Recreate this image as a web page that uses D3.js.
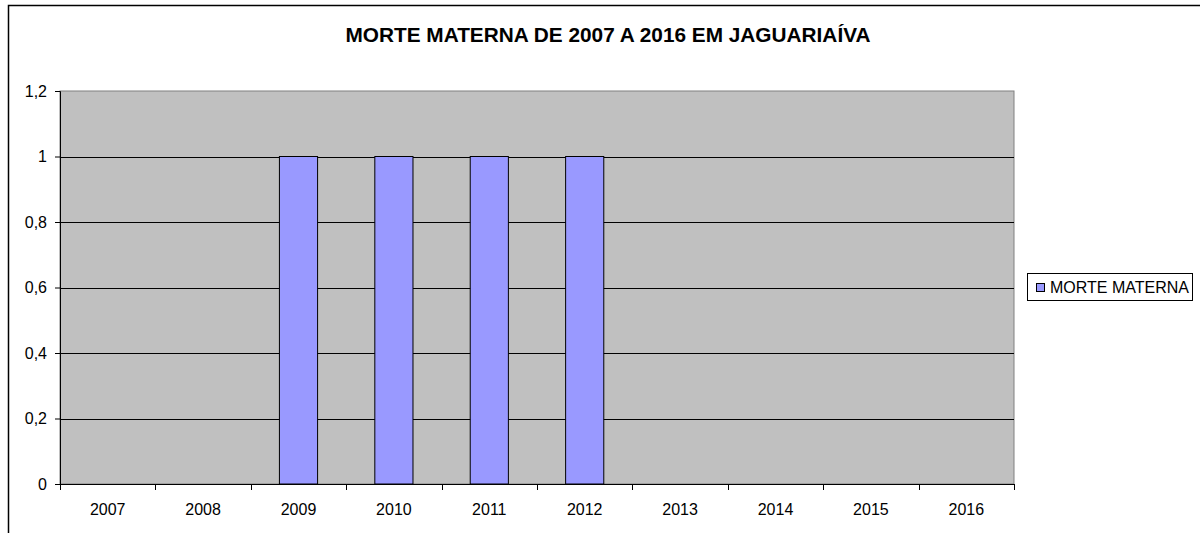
<!DOCTYPE html>
<html>
<head>
<meta charset="utf-8">
<script src="https://cdn.jsdelivr.net/npm/d3@7"></script>
<style>
  html, body { margin: 0; padding: 0; background: #fff; }
  svg { display: block; font-family: Arial, "Liberation Sans", sans-serif; }
</style>
</head>
<body>
<svg id="chart" width="1200" height="533"></svg>
<script>
// Maternal deaths per year in Jaguariaíva
const years = ["2007", "2008", "2009", "2010", "2011", "2012", "2013", "2014", "2015", "2016"];
const deaths = [0, 0, 1, 1, 1, 1, 0, 0, 0, 0];
const yTicks = [0, 0.2, 0.4, 0.6, 0.8, 1, 1.2];
const seriesName = "MORTE MATERNA";
const titleText = "MORTE MATERNA DE 2007 A 2016 EM JAGUARIAÍVA";

const svg = d3.select("#chart");
const plot = { left: 60, top: 91, right: 1014, bottom: 484 };

// Outer chart frame
svg.append("rect")
  .attr("x", 8.5).attr("y", 5.5)
  .attr("width", 1300).attr("height", 600)
  .attr("fill", "#fff").attr("stroke", "#000").attr("stroke-width", 1.5);

svg.append("text")
  .attr("x", 608).attr("y", 42)
  .attr("text-anchor", "middle")
  .attr("font-size", 20.8).attr("font-weight", "bold")
  .attr("fill", "#000")
  .text(titleText);

const x = d3.scaleBand().domain(years).range([plot.left, plot.right]).paddingInner(0).paddingOuter(0);
const y = d3.scaleLinear().domain([0, 1.2]).range([plot.bottom, plot.top]);

// Plot area background
svg.append("rect")
  .attr("x", plot.left).attr("y", plot.top)
  .attr("width", plot.right - plot.left).attr("height", plot.bottom - plot.top)
  .attr("fill", "#c0c0c0").attr("stroke", "#808080").attr("stroke-width", 1);

// Horizontal gridlines
svg.append("g").selectAll("line")
  .data(yTicks.filter(d => d > 0 && d < 1.2))
  .join("line")
  .attr("x1", plot.left).attr("x2", plot.right)
  .attr("y1", d => Math.round(y(d)) + 0.5).attr("y2", d => Math.round(y(d)) + 0.5)
  .attr("stroke", "#000").attr("stroke-width", 1);

// Bars (gap width 150%)
const barW = x.bandwidth() / 2.5;
svg.append("g").selectAll("rect")
  .data(years.map((yr, i) => ({ yr, v: deaths[i] })).filter(d => d.v > 0))
  .join("rect")
  .attr("x", d => x(d.yr) + (x.bandwidth() - barW) / 2)
  .attr("y", d => y(d.v))
  .attr("width", barW)
  .attr("height", d => y(0) - y(d.v))
  .attr("fill", "#9999ff").attr("stroke", "#000").attr("stroke-width", 1);

// Y axis
const yAxis = d3.axisLeft(y)
  .tickValues(yTicks)
  .tickSize(5)
  .tickPadding(8)
  .tickFormat(d => d3.format("~g")(d).replace(".", ","));
const gy = svg.append("g").attr("transform", `translate(${plot.left},0)`).call(yAxis);
gy.select(".domain").attr("stroke", "#000");
gy.selectAll(".tick line").attr("stroke", "#000");
gy.selectAll("text").attr("font-size", 16).attr("fill", "#000").attr("font-family", "Arial, 'Liberation Sans', sans-serif");

// X axis with ticks at category boundaries
const gx = svg.append("g").attr("transform", `translate(0,${plot.bottom})`);
gx.append("line")
  .attr("x1", plot.left).attr("x2", plot.right)
  .attr("y1", 0.5).attr("y2", 0.5)
  .attr("stroke", "#000");
const edges = years.map(yr => x(yr)).concat([x(years[years.length - 1]) + x.bandwidth()]);
gx.selectAll("line.tk")
  .data(edges)
  .join("line")
  .attr("class", "tk")
  .attr("x1", d => Math.round(d) + 0.5).attr("x2", d => Math.round(d) + 0.5)
  .attr("y1", 0).attr("y2", 6)
  .attr("stroke", "#000");
gx.selectAll("text")
  .data(years)
  .join("text")
  .attr("x", d => x(d) + x.bandwidth() / 2)
  .attr("y", 31)
  .attr("text-anchor", "middle")
  .attr("font-size", 16)
  .attr("fill", "#000")
  .text(d => d);

// Legend
const lg = svg.append("g");
lg.append("rect")
  .attr("x", 1027.5).attr("y", 273.5)
  .attr("width", 165).attr("height", 27)
  .attr("fill", "#fff").attr("stroke", "#000");
lg.append("rect")
  .attr("x", 1036.5).attr("y", 283.5)
  .attr("width", 8).attr("height", 8)
  .attr("fill", "#9999ff").attr("stroke", "#000");
lg.append("text")
  .attr("x", 1050).attr("y", 293)
  .attr("font-size", 16).attr("fill", "#000")
  .text(seriesName);
</script>
</body>
</html>
